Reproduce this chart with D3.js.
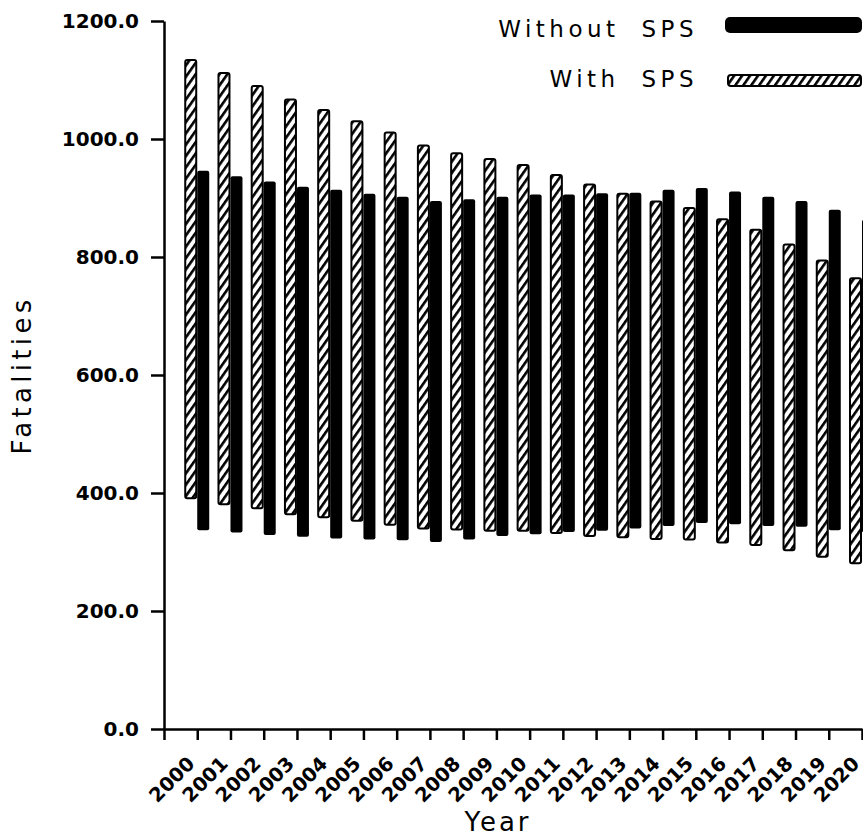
<!DOCTYPE html>
<html lang="en">
<head>
    <meta charset="UTF-8">
    <title>Fatalities with and without SPS</title>
    <style>
        body { margin: 0; background: #fff; }
        svg { display: block; }
        .axis path, .axis line { stroke: #000; stroke-width: 2.5px; }
        .axis text { font-family: "DejaVu Sans", sans-serif; font-weight: bold; fill: #000; }
        .title { font-family: "DejaVu Sans", sans-serif; fill: #000; }
    </style>
</head>
<body>
<svg width="863" height="839"></svg>

<script src="https://d3js.org/d3.v7.min.js"></script>
<script>
    // values (low / high end of each floating bar)
    var years = d3.range(2000, 2021);
    var withHigh    = [1134, 1112, 1090, 1067, 1049, 1030, 1011, 989, 976, 966, 956, 939, 923, 907, 894, 883, 864, 846, 821, 794, 764];
    var withLow     = [391, 381, 374, 364, 359, 353, 346, 340, 338, 336, 336, 332, 327, 325, 322, 321, 316, 312, 303, 292, 281];
    var withoutHigh = [946, 937, 928, 919, 914, 907, 902, 895, 898, 902, 906, 906, 908, 909, 914, 917, 911, 902, 895, 880, 863];
    var withoutLow  = [337, 333, 329, 326, 323, 321, 320, 317, 321, 327, 330, 334, 336, 340, 344, 349, 347, 344, 343, 337, 333];
    var yTicks = [0, 200, 400, 600, 800, 1000, 1200];

    var svg = d3.select("svg");

    // hatch fill for the "With SPS" bars
    var defs = svg.append("defs");
    var pat = defs.append("pattern")
        .attr("id", "hatch")
        .attr("patternUnits", "userSpaceOnUse")
        .attr("width", 6.5)
        .attr("height", 6.5)
        .attr("patternTransform", "rotate(-55)");
    pat.append("rect").attr("width", 6.5).attr("height", 6.5).attr("fill", "#fff");
    pat.append("rect").attr("width", 6.5).attr("height", 2.6).attr("fill", "#000");

    // scales - x runs from 1999 (axis origin) to 2020
    var x = d3.scaleLinear().domain([1999, 2020]).range([164, 862]);
    var y = d3.scaleLinear().domain([0, 1200]).range([729, 21]);

    // y axis
    svg.append("g")
        .attr("class", "axis")
        .attr("transform", "translate(164,0)")
        .call(d3.axisLeft(y)
            .tickValues(yTicks)
            .tickFormat(d3.format(".1f"))
            .tickSize(13)
            .tickSizeOuter(0)
            .tickPadding(12))
        .selectAll("text")
        .style("font-size", "20px");

    // x axis
    var xAxis = svg.append("g")
        .attr("class", "axis")
        .attr("transform", "translate(0,729)")
        .call(d3.axisBottom(x)
            .tickValues(d3.range(1999, 2021))
            .tickFormat(function (d) { return d === 1999 ? "" : d; })
            .tickSize(11)
            .tickSizeOuter(0));

    xAxis.selectAll("text")
        .style("font-size", "19.5px")
        .attr("text-anchor", "end")
        .attr("x", 0)
        .attr("y", 0)
        .attr("dy", 0)
        .attr("transform", "translate(-2,36) rotate(-45)");

    // hatched bars (With SPS), left of each year tick
    svg.selectAll(".bar-with")
        .data(years)
        .enter()
        .append("rect")
        .attr("class", "bar-with")
        .attr("x", function (d) { return x(d) - 12; })
        .attr("width", 11)
        .attr("y", function (d, i) { return y(withHigh[i]); })
        .attr("height", function (d, i) { return y(withLow[i]) - y(withHigh[i]); })
        .attr("rx", 2)
        .attr("fill", "url(#hatch)")
        .attr("stroke", "#000")
        .attr("stroke-width", 2);

    // solid bars (Without SPS), right of each year tick
    svg.selectAll(".bar-without")
        .data(years)
        .enter()
        .append("rect")
        .attr("class", "bar-without")
        .attr("x", function (d) { return x(d); })
        .attr("width", 12)
        .attr("y", function (d, i) { return y(withoutHigh[i]); })
        .attr("height", function (d, i) { return y(withoutLow[i]) - y(withoutHigh[i]); })
        .attr("rx", 2)
        .attr("fill", "#000");

    // axis titles
    svg.append("text")
        .attr("class", "title")
        .attr("x", 498)
        .attr("y", 831)
        .attr("text-anchor", "middle")
        .style("font-size", "26px")
        .style("letter-spacing", "3px")
        .text("Year");

    svg.append("text")
        .attr("class", "title")
        .attr("transform", "translate(31,375) rotate(-90)")
        .attr("text-anchor", "middle")
        .style("font-size", "26px")
        .style("letter-spacing", "4.3px")
        .text("Fatalities");

    // legend
    var legend = svg.append("g").attr("class", "legend");

    legend.append("text")
        .attr("class", "title")
        .attr("x", 698)
        .attr("y", 37)
        .attr("text-anchor", "end")
        .style("font-size", "23px")
        .style("letter-spacing", "4.5px")
        .style("word-spacing", "10px")
        .text("Without SPS");

    legend.append("text")
        .attr("class", "title")
        .attr("x", 698)
        .attr("y", 87)
        .attr("text-anchor", "end")
        .style("font-size", "23px")
        .style("letter-spacing", "4.5px")
        .style("word-spacing", "10px")
        .text("With SPS");

    legend.append("rect")
        .attr("x", 725)
        .attr("y", 17)
        .attr("width", 137)
        .attr("height", 16)
        .attr("rx", 5)
        .attr("fill", "#000");

    legend.append("rect")
        .attr("x", 728)
        .attr("y", 75)
        .attr("width", 133)
        .attr("height", 11)
        .attr("rx", 3)
        .attr("fill", "url(#hatch)")
        .attr("stroke", "#000")
        .attr("stroke-width", 2);
</script>
</body>
</html>
